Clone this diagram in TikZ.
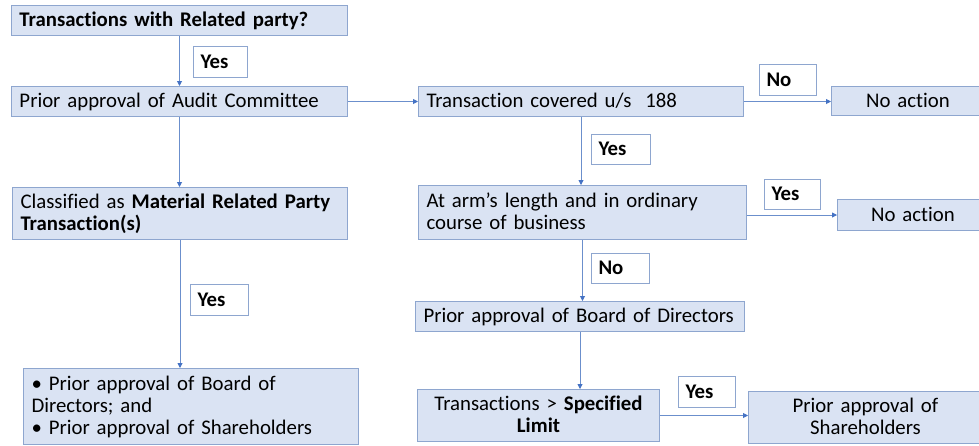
\documentclass[tikz,border=0pt]{standalone}
\usepackage{fontspec}
\setmainfont{Carlito}[Ligatures={NoCommon,NoRare}]
\usetikzlibrary{arrows.meta}
\definecolor{boxfill}{HTML}{DAE3F3}
\definecolor{bordc}{HTML}{8EA6CF}
\definecolor{linec}{HTML}{6B8FCC}
\definecolor{tipc}{HTML}{4472C4}
\newcommand{\mfont}{\fontsize{20.8}{22.3}\selectfont}
\newcommand{\mystrut}{\rule[-5pt]{0pt}{22pt}}
\tikzset{
  box/.style={draw=bordc, fill=boxfill, line width=1pt, inner xsep=8pt, inner ysep=0pt,
    font=\mfont, execute at begin node=\mystrut, execute at end node=\mystrut,
    anchor=north west, align=left},
  lbl/.style={draw=bordc, fill=white, line width=1pt, inner xsep=7pt, inner ysep=0pt,
    font=\mfont\bfseries, execute at begin node=\mystrut,
    anchor=north west, align=left},
  conn/.style={draw=linec, line width=0.9pt, -{Triangle[length=5pt,width=5pt,color=tipc]}}
}
\begin{document}
\begin{tikzpicture}[x=1pt,y=-1pt]
\useasboundingbox (0,0) rectangle (979,445);
% main boxes
\node[box, text width=320pt, minimum height=30pt] (b1) at (11,5) {\mbox{\textbf{Transactions with Related party?}}};
\node[box, text width=320pt, minimum height=30pt] (b3) at (11,86) {\mbox{Prior approval of Audit Committee}};
\node[box, text width=309pt, minimum height=30pt] (b4) at (418,86) {\mbox{Transaction covered u/s\ \ 188}};
\node[box, text width=137pt, minimum height=29pt, align=center] (b6) at (831,86) {No action};
\node[box, text width=319pt, minimum height=52pt] (b7) at (12,187) {\mbox{Classified as \textbf{Material Related Party}}\\\textbf{Transaction(s)}};
\node[box, text width=312pt, minimum height=54pt] (b9) at (418,185) {\mbox{At arm’s length and in ordinary}\\course of business};
\node[box, text width=135pt, minimum height=31pt, align=center] (b11) at (837,199) {No action};
\node[box, text width=313pt, minimum height=30pt] (b13) at (415,301) {\mbox{Prior approval of Board of Directors}};
\node[box, text width=319pt, minimum height=76pt] (b15) at (23,368) {\mbox{• Prior approval of Board of}\\Directors; and\\\mbox{• Prior approval of Shareholders}};
\node[box, text width=226pt, minimum height=52pt, align=center] (b16) at (417,389) {\mbox{Transactions > \textbf{Specified}}\\\textbf{Limit}};
\node[box, text width=218pt, minimum height=52pt, align=center] (b18) at (748,391) {Prior approval of\\Shareholders};
% labels
\node[lbl, text width=40pt, minimum height=31pt] (l1) at (193,46) {Yes};
\node[lbl, text width=43pt, minimum height=31pt] (l2) at (759,64) {No};
\node[lbl, text width=45pt, minimum height=30pt] (l3) at (591,134) {Yes};
\node[lbl, text width=42pt, minimum height=30pt] (l4) at (764,179) {Yes};
\node[lbl, text width=44pt, minimum height=30pt] (l5) at (591,253) {No};
\node[lbl, text width=44pt, minimum height=31pt] (l6) at (190,284) {Yes};
\node[lbl, text width=43pt, minimum height=31pt] (l7) at (678,376) {Yes};
% connectors
\draw[conn] (b1.south) -- (b1.south |- b3.north);
\draw[conn] (b3.east) -- (b3.east -| b4.west);
\draw[conn] (b4.east) -- (b4.east -| b6.west);
\draw[conn] (b3.south) -- (b3.south |- b7.north);
\draw[conn] (b4.south) -- (b4.south |- b9.north);
\draw[conn] (b11.west -| b9.east) -- (b11.west);
\draw[conn] (b9.south) -- (b9.south |- b13.north);
\draw[conn] (b7.south) -- (b7.south |- b15.north);
\draw[conn] (b13.south) -- (b13.south |- b16.north);
\draw[conn] (b16.east) -- (b16.east -| b18.west);
\end{tikzpicture}
\end{document}
